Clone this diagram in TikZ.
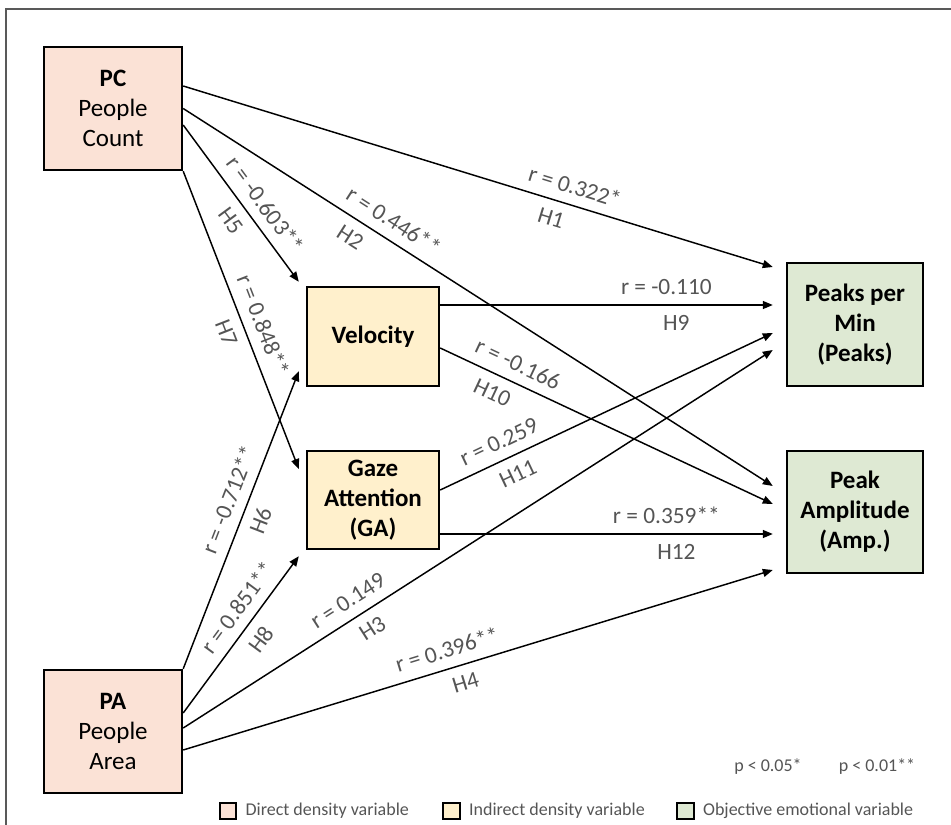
\documentclass[tikz,border=0pt]{standalone}
\usepackage{fontspec}
\setmainfont{Carlito}
\usepackage{xcolor}
\usetikzlibrary{arrows.meta, positioning, calc}
\definecolor{dens-pink}{RGB}{251, 226, 214}
\definecolor{dens-yellow}{RGB}{255, 240, 204}
\definecolor{emo-green}{RGB}{222, 233, 211}
\definecolor{lbl-grey}{RGB}{85, 85, 85}

\begin{document}
\begin{tikzpicture}[x=0.75pt, y=-0.75pt,
    box/.style={rectangle, draw=black, line width=1.8pt, align=center,
                inner sep=0pt, font=\fontsize{18.75}{22.5}\selectfont},
    arr/.style={-{Triangle[length=7.5pt, width=6pt]}, line width=1.1pt},
    lbl/.style={sloped, inner sep=7.5pt, text=lbl-grey,
                font=\fontsize{17.5}{20}\selectfont},
    key/.style={rectangle, draw=black, line width=1.5pt,
                minimum size=12.5pt, inner sep=0pt},
    keytxt/.style={inner sep=0pt, text=lbl-grey, font=\fontsize{13.5}{16}\selectfont}
  ]
    \useasboundingbox (0,0) rectangle (951,825);
    \draw[black!65, line width=1.3pt] (6,825) -- (6,9) -- (951,9);

    % density variables
    \node[box, fill=dens-pink, minimum width=103.5pt, minimum height=92.25pt]
      (pc) at (113,108.5) {\textbf{PC}\\People\\Count};
    \node[box, fill=dens-pink, minimum width=103.5pt, minimum height=92.25pt]
      (pa) at (113,731.5) {\textbf{PA}\\People\\Area};
    \node[box, fill=dens-yellow, minimum width=99pt, minimum height=74.25pt]
      (vel) at (373,336.5) {\textbf{Velocity}};
    \node[box, fill=dens-yellow, minimum width=99pt, minimum height=73.5pt]
      (ga) at (373,500) {\textbf{Gaze}\\\textbf{Attention}\\\textbf{(GA)}};

    % emotional variables
    \node[box, fill=emo-green, minimum width=102pt, minimum height=92.25pt]
      (pk) at (855,324.5) {\textbf{Peaks per}\\\textbf{Min}\\\textbf{(Peaks)}};
    \node[box, fill=emo-green, minimum width=102pt, minimum height=91.5pt]
      (amp) at (855,512) {\textbf{Peak}\\\textbf{Amplitude}\\\textbf{(Amp.)}};

    % PC paths
    \draw[arr] ($(pc.east)+(0,-22.5)$) --
      node[lbl, above, pos=0.655] {r = 0.322*} node[lbl, below, pos=0.633] {H1}
      ($(pk.west)+(-13,-57.5)$);
    \draw[arr] (pc.east) --
      node[lbl, above, pos=0.34] {r = 0.446**} node[lbl, below, pos=0.3] {H2}
      ($(amp.west)+(-13,-26)$);
    \draw[arr] ($(pc.east)+(0,16.5)$) --
      node[lbl, above, pos=0.58] {r = -0.603**} node[lbl, below, pos=0.54] {H5}
      ($(vel.north west)+(-7,-4)$);
    \draw[arr] (pc.south east) --
      node[lbl, above, pos=0.54] {r = 0.848**} node[lbl, below, pos=0.52] {H7}
      ($(ga.west)+(-7,-31)$);

    % PA paths
    \draw[arr] (pa.north east) --
      node[lbl, above, pos=0.545] {r = -0.712**} node[lbl, below, pos=0.52] {H6}
      ($(vel.south west)+(-7,-16)$);
    \draw[arr] ($(pa.east)+(0,-18.5)$) --
      node[lbl, above, pos=0.6] {r = 0.851**} node[lbl, below, pos=0.54] {H8}
      ($(ga.south west)+(-7,6)$);
    \draw[arr] ($(pa.east)+(0,-3.5)$) --
      node[lbl, above, pos=0.296] {r = 0.149} node[lbl, below, pos=0.304] {H3}
      ($(pk.west)+(-13,25.5)$);
    \draw[arr] ($(pa.east)+(0,18.5)$) --
      node[lbl, above, pos=0.457] {r = 0.396**} node[lbl, below, pos=0.47] {H4}
      ($(amp.west)+(-13,58)$);

    % indirect -> emotional
    \draw[arr] ($(vel.east)+(0,-31.5)$) --
      node[lbl, above, pos=0.68] {r = -0.110} node[lbl, below, pos=0.71] {H9}
      ($(pk.west)+(-13,-19.5)$);
    \draw[arr] ($(vel.east)+(0,11.5)$) --
      node[lbl, above, pos=0.21] {r = -0.166} node[lbl, below, pos=0.18] {H10}
      ($(amp.west)+(-13,-8)$);
    \draw[arr] ($(ga.east)+(0,-10)$) --
      node[lbl, above, pos=0.2] {r = 0.259} node[lbl, below, pos=0.21] {H11}
      ($(pk.west)+(-13,8.5)$);
    \draw[arr] ($(ga.east)+(0,34)$) --
      node[lbl, above, pos=0.68] {r = 0.359**} node[lbl, below, pos=0.71] {H12}
      ($(amp.west)+(-13,22)$);

    % significance and legend
    \node[keytxt] (p1) at (768,767) {p < 0.05*};
    \node[keytxt] (p2) at (877,767) {p < 0.01**};
    \node[key, fill=dens-pink] (k1) at (228,811) {};
    \node[keytxt, right=6pt of k1] (t1) {Direct density variable};
    \node[key, fill=dens-yellow] (k2) at (451.5,811) {};
    \node[keytxt, right=6pt of k2] (t2) {Indirect density variable};
    \node[key, fill=emo-green] (k3) at (685.5,811) {};
    \node[keytxt, right=6pt of k3] (t3) {Objective emotional variable};
\end{tikzpicture}
\end{document}
